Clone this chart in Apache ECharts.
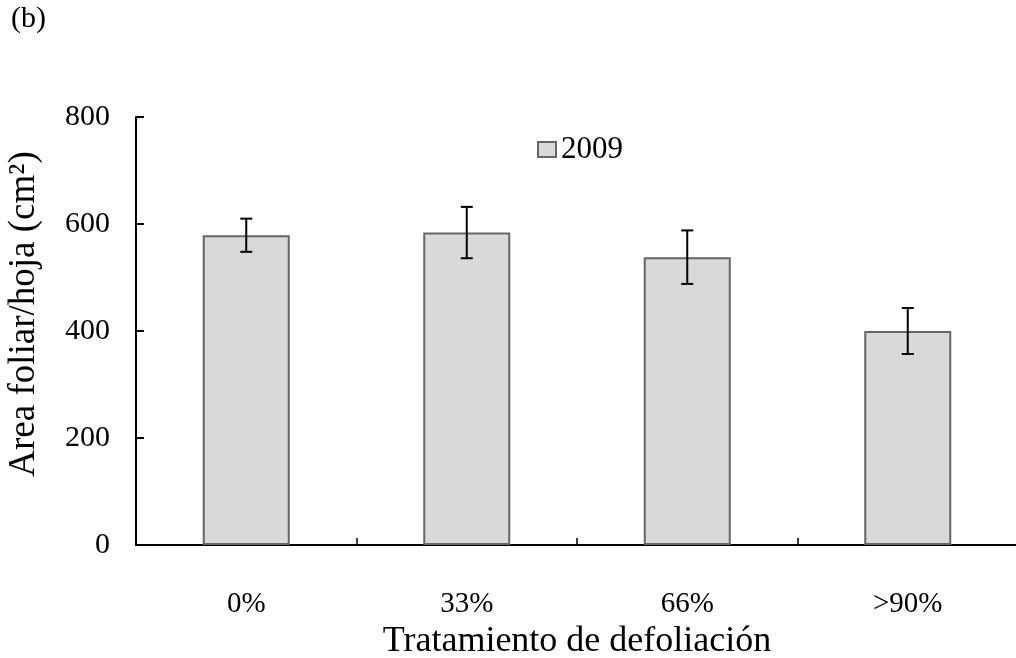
<!DOCTYPE html>
<html>
<head>
<meta charset="utf-8">
<script src="https://cdn.jsdelivr.net/npm/echarts@6/dist/echarts.min.js"></script>
<style>
  html, body { margin: 0; padding: 0; background: #fff; }
  #chart { width: 1016px; height: 658px; }
</style>
</head>
<body>
<div id="chart"></div>
<script>
// Leaf area per leaf by defoliation treatment, 2009 season
const categories = ['0%', '33%', '66%', '>90%'];
const areaMean = [579, 584, 538, 400];
const areaErr = [31, 48, 50, 43];
const yTicks = [0, 200, 400, 600, 800];

const FONT = '"Liberation Serif", "Times New Roman", serif';

const errorData = categories.map((c, i) => [i, areaMean[i] - areaErr[i], areaMean[i] + areaErr[i]]);

const chart = echarts.init(document.getElementById('chart'), null, { renderer: 'canvas' });

chart.setOption({
  backgroundColor: '#ffffff',
  animation: false,
  graphic: [{
    type: 'text',
    left: 11,
    top: 4,
    style: { text: '(b)', font: '30px ' + FONT, fill: '#000' }
  }],
  legend: {
    data: ['2009'],
    left: 532,
    top: 129,
    icon: 'rect',
    itemWidth: 18,
    itemHeight: 15,
    itemGap: 4,
    textStyle: { fontFamily: FONT, fontSize: 31, color: '#000', padding: [0, 0, 0, 0] }
  },
  grid: {
    left: 136, top: 117, width: 882, height: 428,
    containLabel: false,
    outerBoundsMode: 'none'
  },
  xAxis: {
    type: 'category',
    data: categories,
    boundaryGap: true,
    name: 'Tratamiento de defoliación',
    nameLocation: 'middle',
    nameGap: 78,
    nameTextStyle: { fontFamily: FONT, fontSize: 36, color: '#000' },
    axisLine: { lineStyle: { color: '#000', width: 2 } },
    axisTick: { show: true, inside: true, length: 7, lineStyle: { color: '#000', width: 1.5 } },
    axisLabel: { margin: 45, fontFamily: FONT, fontSize: 29, color: '#000' },
    splitLine: { show: false }
  },
  yAxis: {
    type: 'value',
    min: yTicks[0],
    max: yTicks[yTicks.length - 1],
    interval: 200,
    name: 'Area foliar/hoja (cm²)',
    nameLocation: 'middle',
    nameGap: 93,
    nameRotate: 90,
    nameTextStyle: { fontFamily: FONT, fontSize: 37, color: '#000', padding: [0, 0, 0, 34] },
    axisLine: { show: true, lineStyle: { color: '#000', width: 2 } },
    axisTick: { show: true, inside: true, length: 8, lineStyle: { color: '#000', width: 2 } },
    axisLabel: { margin: 26, fontFamily: FONT, fontSize: 30, color: '#000' },
    splitLine: { show: false }
  },
  series: [
    {
      name: '2009',
      type: 'bar',
      data: areaMean,
      barWidth: 87,
      itemStyle: { color: '#d9d9d9', borderColor: '#666666', borderWidth: 2 }
    },
    {
      name: 'error',
      type: 'custom',
      data: errorData,
      z: 5,
      renderItem: function (params, api) {
        const x = api.value(0);
        const lo = api.coord([x, api.value(1)]);
        const hi = api.coord([x, api.value(2)]);
        const half = 6;
        const style = { stroke: '#000', lineWidth: 2 };
        return {
          type: 'group',
          children: [
            { type: 'line', shape: { x1: lo[0], y1: lo[1], x2: hi[0], y2: hi[1] }, style: style },
            { type: 'line', shape: { x1: hi[0] - half, y1: hi[1], x2: hi[0] + half, y2: hi[1] }, style: style },
            { type: 'line', shape: { x1: lo[0] - half, y1: lo[1], x2: lo[0] + half, y2: lo[1] }, style: style }
          ]
        };
      }
    }
  ]
});
</script>
</body>
</html>
